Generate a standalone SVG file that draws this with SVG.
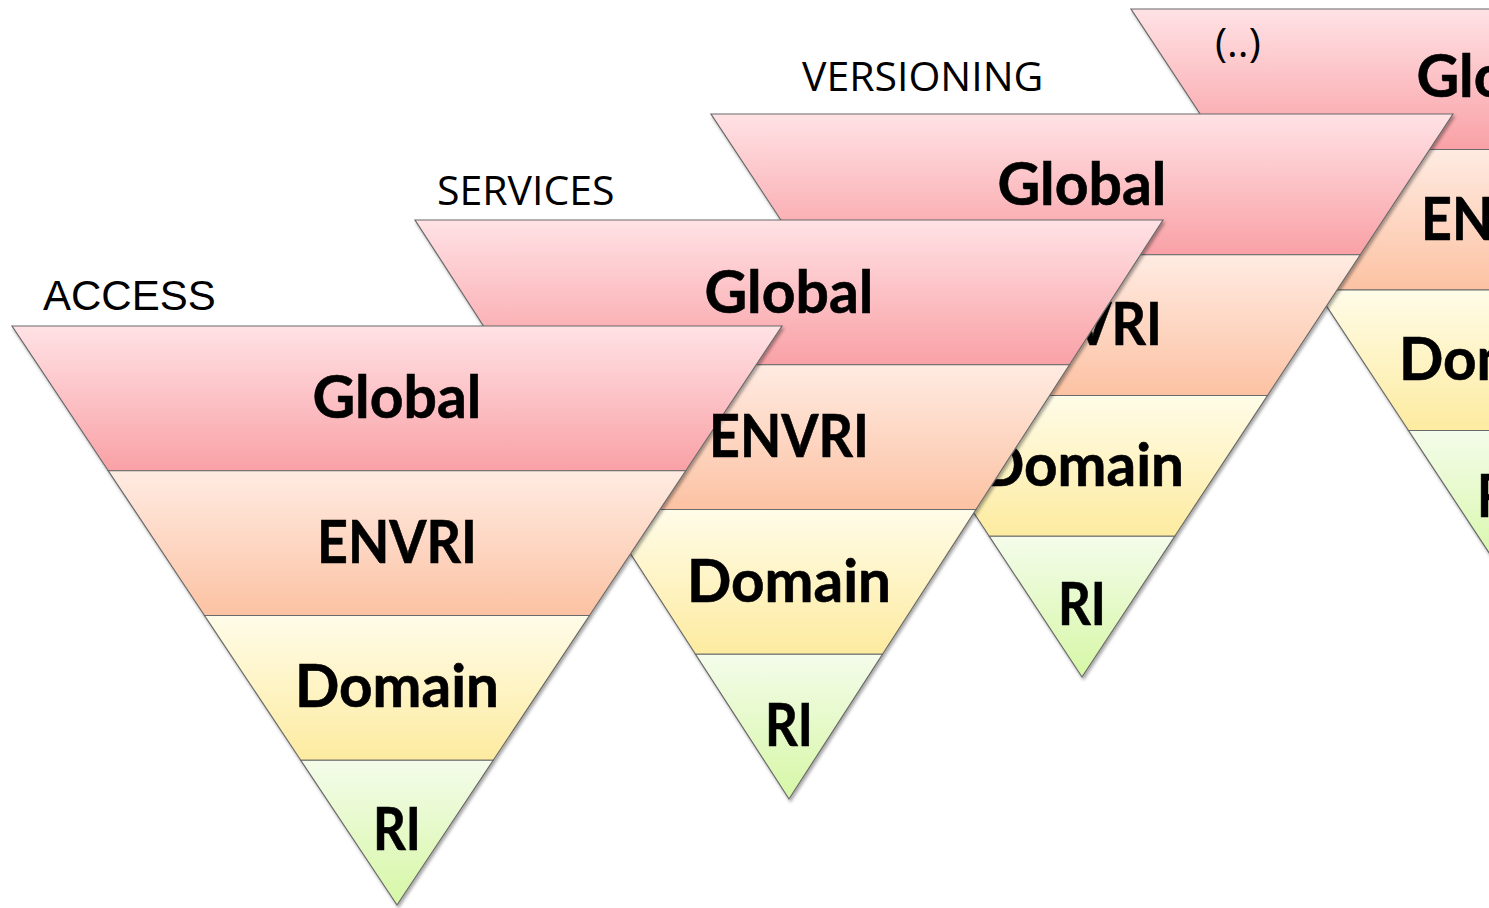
<svg xmlns="http://www.w3.org/2000/svg" width="1489" height="908" viewBox="0 0 1489 908">
<defs>
<linearGradient id="gGlobal" x1="0" y1="0" x2="0" y2="1">
<stop offset="0" stop-color="#FFE2E5"/><stop offset="1" stop-color="#F9A1A6"/>
</linearGradient>
<linearGradient id="gEnvri" x1="0" y1="0" x2="0" y2="1">
<stop offset="0" stop-color="#FFEBE2"/><stop offset="1" stop-color="#FCC2A3"/>
</linearGradient>
<linearGradient id="gDomain" x1="0" y1="0" x2="0" y2="1">
<stop offset="0" stop-color="#FFFCE8"/><stop offset="1" stop-color="#FDEBA0"/>
</linearGradient>
<linearGradient id="gRi" x1="0" y1="0" x2="0" y2="1">
<stop offset="0" stop-color="#F4FCEA"/><stop offset="1" stop-color="#D6F7A6"/>
</linearGradient>
<filter id="shadow" x="-10%" y="-10%" width="120%" height="120%">
<feDropShadow dx="1.5" dy="2.5" stdDeviation="1.8" flood-color="#000" flood-opacity="0.35"/>
</filter>
</defs>
<style>
.band{stroke:#6a6a6a;stroke-width:1.2;stroke-linejoin:miter}
.gl{fill:url(#gGlobal)}
.en{fill:url(#gEnvri)}
.do{fill:url(#gDomain)}
.ri{fill:url(#gRi)}
.lbl{font-family:Lato,"Open Sans","Liberation Sans",sans-serif;font-weight:bold;font-size:59px;fill:#000;text-anchor:middle;stroke:#000;stroke-width:0.6}
.ttl{font-family:"Open Sans","Liberation Sans",sans-serif;font-size:41px;fill:#000}
.ttlA{font-family:"Liberation Sans",Arial,sans-serif;font-size:42px;fill:#000}
</style>
<rect width="1489" height="908" fill="#fff"/>

<!-- Fourth triangle (..) -->
<g id="tri-more">
<g filter="url(#shadow)">
<polygon class="band gl" points="1131,9 1871,9 1778.5,149.5 1223.5,149.5"/>
<polygon class="band en" points="1223.5,149.5 1778.5,149.5 1686,290 1316,290"/>
<polygon class="band do" points="1316,290 1686,290 1593.5,430.5 1408.5,430.5"/>
<polygon class="band ri" points="1408.5,430.5 1593.5,430.5 1501,571"/>
</g>
<text class="ttl" x="1215" y="57">(..)</text>
<text class="lbl" x="1501" y="97" textLength="169" lengthAdjust="spacingAndGlyphs">Global</text>
<text class="lbl" x="1501" y="240" textLength="160" lengthAdjust="spacingAndGlyphs">ENVRI</text>
<text class="lbl" x="1501" y="380" textLength="204" lengthAdjust="spacingAndGlyphs">Domain</text>
<text class="lbl" x="1501" y="517" textLength="48" lengthAdjust="spacingAndGlyphs">RI</text>
</g>

<!-- VERSIONING -->
<text id="title-versioning" class="ttl" x="802" y="91">VERSIONING</text>
<g id="tri-versioning">
<g filter="url(#shadow)">
<polygon class="band gl" points="711,114 1453,114 1360.25,254.75 803.75,254.75"/>
<polygon class="band en" points="803.75,254.75 1360.25,254.75 1267.5,395.5 896.5,395.5"/>
<polygon class="band do" points="896.5,395.5 1267.5,395.5 1174.75,536.25 989.25,536.25"/>
<polygon class="band ri" points="989.25,536.25 1174.75,536.25 1082,677"/>
</g>
<text class="lbl" x="1082" y="205" textLength="169" lengthAdjust="spacingAndGlyphs">Global</text>
<text class="lbl" x="1082" y="345" textLength="160" lengthAdjust="spacingAndGlyphs">ENVRI</text>
<text class="lbl" x="1082" y="486" textLength="204" lengthAdjust="spacingAndGlyphs">Domain</text>
<text class="lbl" x="1082" y="625" textLength="48" lengthAdjust="spacingAndGlyphs">RI</text>
</g>

<!-- SERVICES shapes -->
<text id="title-services" class="ttl" x="437" y="205">SERVICES</text>
<g id="tri-services">
<g filter="url(#shadow)">
<polygon class="band gl" points="415,220 1163,220 1069.5,364.75 508.5,364.75"/>
<polygon class="band en" points="508.5,364.75 1069.5,364.75 976,509.5 602,509.5"/>
<polygon class="band do" points="602,509.5 976,509.5 882.5,654.25 695.5,654.25"/>
<polygon class="band ri" points="695.5,654.25 882.5,654.25 789,799"/>
</g>
</g>

<!-- ACCESS shapes -->
<text id="title-access" class="ttlA" x="43" y="310">ACCESS</text>
<g id="tri-access">
<g filter="url(#shadow)">
<polygon class="band gl" points="12,326 782,326 685.75,470.75 108.25,470.75"/>
<polygon class="band en" points="108.25,470.75 685.75,470.75 589.5,615.5 204.5,615.5"/>
<polygon class="band do" points="204.5,615.5 589.5,615.5 493.25,760.25 300.75,760.25"/>
<polygon class="band ri" points="300.75,760.25 493.25,760.25 397,905"/>
</g>
</g>

<!-- labels of SERVICES and ACCESS (drawn on top) -->
<g id="labels-services">
<text class="lbl" x="789" y="313" textLength="169" lengthAdjust="spacingAndGlyphs">Global</text>
<text class="lbl" x="789" y="457" textLength="160" lengthAdjust="spacingAndGlyphs">ENVRI</text>
<text class="lbl" x="789" y="602" textLength="204" lengthAdjust="spacingAndGlyphs">Domain</text>
<text class="lbl" x="789" y="746" textLength="48" lengthAdjust="spacingAndGlyphs">RI</text>
</g>
<g id="labels-access">
<text class="lbl" x="397" y="418" textLength="169" lengthAdjust="spacingAndGlyphs">Global</text>
<text class="lbl" x="397" y="563" textLength="160" lengthAdjust="spacingAndGlyphs">ENVRI</text>
<text class="lbl" x="397" y="707" textLength="204" lengthAdjust="spacingAndGlyphs">Domain</text>
<text class="lbl" x="397" y="850" textLength="48" lengthAdjust="spacingAndGlyphs">RI</text>
</g>
<g id="connectors"/>
</svg>
